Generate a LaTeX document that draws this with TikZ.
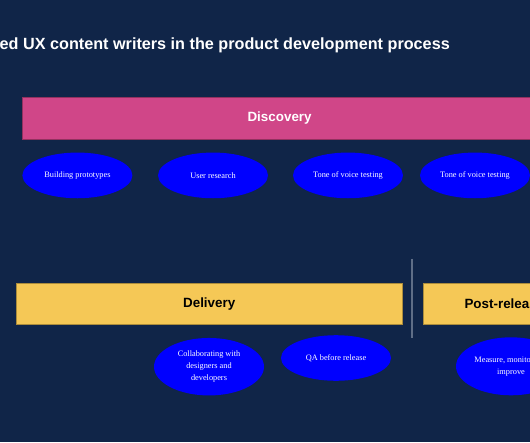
\documentclass[tikz,border=0pt]{standalone}
\usepackage{fontspec}
\setmainfont{Liberation Serif}
\setsansfont{Liberation Sans}
\usetikzlibrary{shapes.geometric}
\definecolor{bg}{RGB}{16,37,72}
\definecolor{pinkbar}{RGB}{208,70,136}
\definecolor{yellowbar}{RGB}{245,200,86}
\definecolor{blueel}{RGB}{0,0,255}
\definecolor{divider}{RGB}{95,110,135}
\begin{document}
\begin{tikzpicture}[x=1pt,y=-1pt,
  bar/.style={rectangle, inner sep=0pt, anchor=north west,
    font=\sffamily\bfseries\fontsize{13.4}{16}\selectfont},
  pinkbox/.style={bar, fill=pinkbar, draw=pinkbar!70!black, line width=0.6pt, text=white},
  yellowbox/.style={bar, fill=yellowbar, draw=yellowbar!70!black, line width=0.6pt, text=black},
  task/.style={ellipse, fill=blueel, draw=none, inner sep=0pt, text=white, align=center,
    minimum width=110pt, font=\fontsize{8.3}{12}\selectfont},
  titletext/.style={anchor=base west, inner sep=0pt, text=white,
    font=\sffamily\bfseries\fontsize{16.2}{19}\selectfont}
]
\useasboundingbox (0,0) rectangle (530,442);
\fill[bg] (0,0) rectangle (530,442);
\clip (0,0) rectangle (530,442);

\node[titletext] (title) at (-0.5,49.7) {ed UX content writers in the product development process};

\node[pinkbox, minimum width=514pt, minimum height=41.5pt] (discovery) at (22.3,97) {Discovery};

\node[task, minimum height=45.7pt] (proto) at (77.4,175.4) {Building prototypes};
\node[task, minimum height=45.7pt] (research) at (213,175.4) {User research};
\node[task, minimum height=45.7pt] (tone1) at (348,175.4) {Tone of voice testing};
\node[task, minimum height=45.7pt] (tone2) at (475,175.4) {Tone of voice testing};

\node[yellowbox, minimum width=385.4pt, minimum height=41.6pt] (delivery) at (16.2,282.8) {Delivery};
\node[yellowbox, minimum width=163pt, minimum height=41.6pt] (post) at (422.6,282.8) {Post-release};

\coordinate (divtop) at (411.8,258.5);
\coordinate (divbot) at (411.8,337.9);
\draw[divider, line width=1.6pt] (divtop) -- (divbot);

\node[task, minimum height=57.5pt] (collab) at (209,366.7) {Collaborating with\\designers and\\developers};
\node[task, minimum height=45.6pt] (qa) at (336,358) {QA before release};
\node[task, minimum height=58pt] (measure) at (511,366.3) {Measure, monitor and\\improve};
\end{tikzpicture}
\end{document}
